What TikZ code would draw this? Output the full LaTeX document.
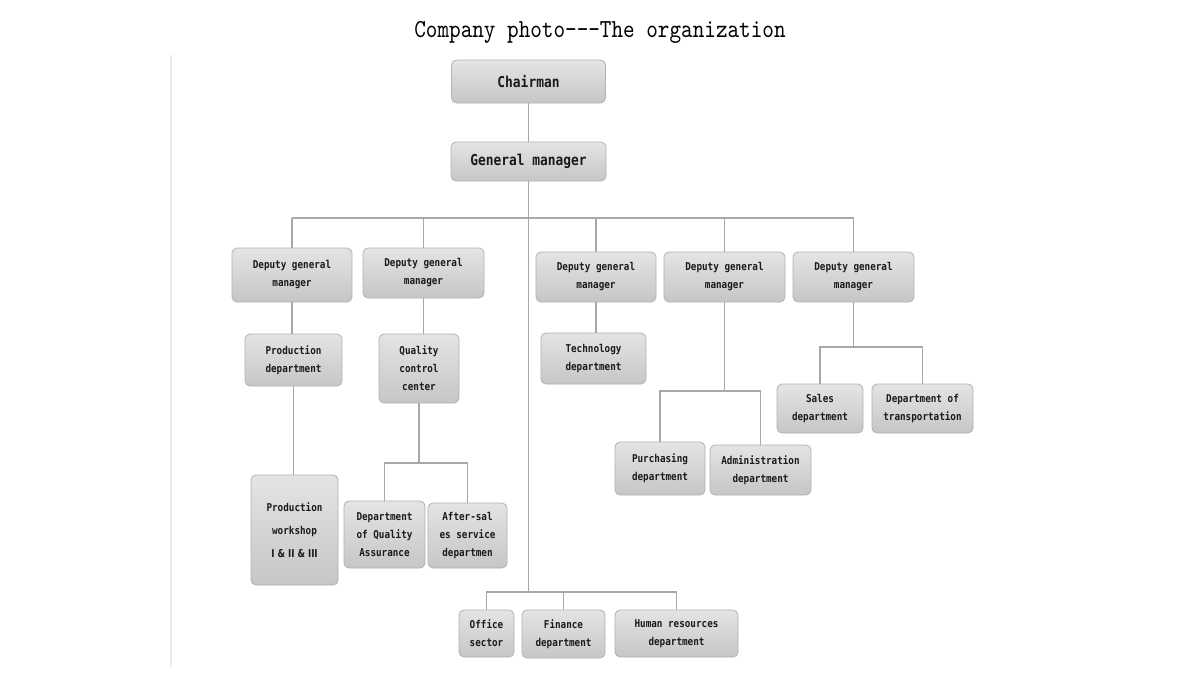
\documentclass[tikz,border=0pt]{standalone}
\usepackage{fontspec}
\newfontfamily\titlefont[FakeStretch=0.85]{lmmono10-regular.otf}
\newfontfamily\boxfont[FakeStretch=0.86]{DejaVu Sans Mono Bold}
\newfontfamily\numfont[FakeStretch=0.8]{DejaVu Sans Bold}
\definecolor{boxtop}{HTML}{E4E4E4}
\definecolor{boxbot}{HTML}{C6C6C6}
\definecolor{boxline}{HTML}{B2B2B2}
\definecolor{conn}{HTML}{A8A8A8}
\definecolor{txt}{HTML}{1A1A1A}
\tikzset{
  box/.style={draw=boxline, line width=0.8pt, rounded corners=5pt, top color=boxtop, bottom color=boxbot,
    inner sep=0pt, outer sep=0pt, align=center, text=txt},
  big/.style={box, font=\boxfont\fontsize{15}{18}\selectfont},
  small/.style={box, font=\boxfont\fontsize{10.8}{18}\selectfont},
  link/.style={draw=conn, line width=1.3pt},
}
\begin{document}
\begin{tikzpicture}[x=1pt,y=-1pt]
\useasboundingbox (0,0) rectangle (1200,678);
\fill[white] (0,0) rectangle (1200,678);
% faint left rule
\draw[draw={rgb,255:red,236;green,236;blue,230}, line width=1.5pt] (171,55) -- (171,667);
% title
\node[font=\titlefont\fontsize{26}{30}\selectfont, text=black, anchor=base, inner sep=0pt] (title) at (600,37) {Company photo---The organization};

% nodes
\node[big, minimum width=154pt, minimum height=43pt] (cm) at (528.5,81.5) {Chairman};
\node[big, minimum width=155pt, minimum height=39pt] (gm) at (528.5,161.5) {General manager};

\node[small, minimum width=120pt, minimum height=54pt] (dgm1) at (292,275) {Deputy general\\manager};
\node[small, minimum width=121pt, minimum height=50pt] (dgm2) at (423.5,273) {Deputy general\\manager};
\node[small, minimum width=120pt, minimum height=50pt] (dgm3) at (596,277) {Deputy general\\manager};
\node[small, minimum width=121pt, minimum height=50pt] (dgm4) at (724.5,277) {Deputy general\\manager};
\node[small, minimum width=121pt, minimum height=50pt] (dgm5) at (853.5,277) {Deputy general\\manager};

\node[small, minimum width=97pt, minimum height=52pt] (prod) at (293.5,360) {Production\\department};
\node[small, minimum width=87pt, minimum height=110pt, font=\boxfont\fontsize{10.8}{23}\selectfont] (work) at (294.5,530) {Production\\workshop\\{\numfont I \& II \& III}};

\node[small, minimum width=80pt, minimum height=69pt] (qcc) at (419,368.5) {Quality\\control\\center};
\node[small, minimum width=81pt, minimum height=67pt] (dqa) at (384.5,534.5) {Department\\of Quality\\Assurance};
\node[small, minimum width=79pt, minimum height=65pt] (after) at (467.5,535.5) {After-sal\\es service\\departmen};

\node[small, minimum width=105pt, minimum height=51pt] (tech) at (593.5,358.5) {Technology\\department};

\node[small, minimum width=90pt, minimum height=53pt] (purch) at (660,468.5) {Purchasing\\department};
\node[small, minimum width=101pt, minimum height=50pt] (admin) at (760.5,470) {Administration\\department};

\node[small, minimum width=86pt, minimum height=49pt] (sales) at (820,408.5) {Sales\\department};
\node[small, minimum width=101pt, minimum height=49pt] (trans) at (922.5,408.5) {Department of\\transportation};

\node[small, minimum width=55pt, minimum height=47pt] (office) at (486.5,633.5) {Office\\sector};
\node[small, minimum width=83pt, minimum height=48pt] (fin) at (563.5,634) {Finance\\department};
\node[small, minimum width=123pt, minimum height=47pt] (hr) at (676.5,633.5) {Human resources\\department};

% bus levels
\coordinate (busA) at (0,218);
\coordinate (busB) at (0,592);
\coordinate (busQ) at (0,463);
\coordinate (busP) at (0,391);
\coordinate (busS) at (0,347);

% connectors
\draw[link] (cm.south) -- (gm.north);
\draw[link] (gm.south) -- (gm.south |- busB);
\draw[link] (dgm1.north |- busA) -- (dgm5.north |- busA);
\foreach \n in {dgm1,dgm2,dgm3,dgm4,dgm5}
  \draw[link] (\n.north |- busA) -- (\n.north);

\draw[link] (dgm1.south) -- (dgm1.south |- prod.north);
\draw[link] (prod.south) -- (prod.south |- work.north);

\draw[link] (dgm2.south) -- (dgm2.south |- qcc.north);
\draw[link] (qcc.south) -- (qcc.south |- busQ);
\draw[link] (dqa.north) |- (qcc.south |- busQ) -| (after.north);

\draw[link] (dgm3.south) -- (dgm3.south |- tech.north);

\draw[link] (dgm4.south) -- (dgm4.south |- busP);
\draw[link] (purch.north) |- (dgm4.south |- busP) -| (admin.north);

\draw[link] (dgm5.south) -- (dgm5.south |- busS);
\draw[link] (sales.north) |- (dgm5.south |- busS) -| (trans.north);

\draw[link] (office.north) |- (gm.south |- busB) -| (hr.north);
\draw[link] (fin.north) -- (fin.north |- busB);
\end{tikzpicture}
\end{document}
